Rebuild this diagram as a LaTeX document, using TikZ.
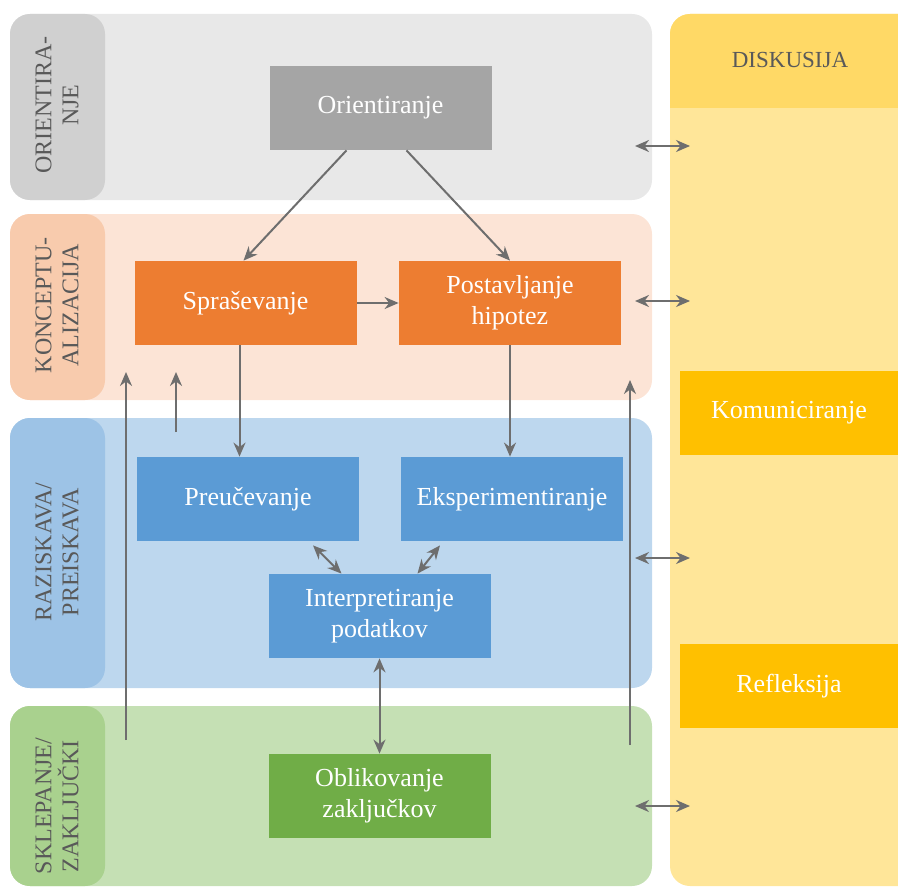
\documentclass[tikz,border=0pt]{standalone}
\usepackage{fontspec}
\setmainfont{Liberation Serif}
\usetikzlibrary{arrows.meta}

\definecolor{arr}{HTML}{6E6E6E}
\definecolor{labtxt}{HTML}{595959}
\definecolor{grayband}{HTML}{E8E8E8}
\definecolor{graylab}{HTML}{D0D0D0}
\definecolor{graybox}{HTML}{A5A5A5}
\definecolor{orband}{HTML}{FCE4D6}
\definecolor{orlab}{HTML}{F8CBAD}
\definecolor{orbox}{HTML}{ED7D31}
\definecolor{blband}{HTML}{BDD7EE}
\definecolor{bllab}{HTML}{9DC3E6}
\definecolor{blbox}{HTML}{5B9BD5}
\definecolor{grband}{HTML}{C5E0B4}
\definecolor{grlab}{HTML}{A9D18E}
\definecolor{grbox}{HTML}{70AD47}
\definecolor{ylband}{HTML}{FFE699}
\definecolor{ylhead}{HTML}{FFD966}
\definecolor{ylbox}{HTML}{FFC000}

\tikzset{
  box/.style={minimum width=111pt, minimum height=42pt, inner sep=0pt,
    text=white, align=center, font=\fontsize{13}{15.5}\selectfont},
  lane/.style={rotate=90, align=center, text=labtxt,
    font=\fontsize{12}{13.5}\selectfont},
  link/.style={draw=arr, line width=1pt, -{Stealth[length=7pt,width=6pt]}},
  both/.style={draw=arr, line width=1pt,
    {Stealth[length=7pt,width=6pt]}-{Stealth[length=7pt,width=6pt]}},
}

\begin{document}
\begin{tikzpicture}[x=0.5pt, y=-0.5pt]
      \useasboundingbox (0,0) rectangle (898,888);
      \clip (0,0) rectangle (898,888);

      % bands
      \fill[grayband, rounded corners=10pt] (10,14) rectangle (652,200);
      \fill[graylab, rounded corners=10pt] (10,14) rectangle (105,200);
      \fill[orband, rounded corners=10pt] (10,214) rectangle (652,400);
      \fill[orlab, rounded corners=10pt] (10,214) rectangle (105,400);
      \fill[blband, rounded corners=10pt] (10,418) rectangle (652,688);
      \fill[bllab, rounded corners=10pt] (10,418) rectangle (105,688);
      \fill[grband, rounded corners=10pt] (10,706) rectangle (652,886);
      \fill[grlab, rounded corners=10pt] (10,706) rectangle (105,886);

      \fill[ylband, rounded corners=10pt] (670,14) rectangle (940,886);
      \fill[ylhead, rounded corners=10pt] (670,108) -- (670,14) -- (940,14) -- (940,108);

      \node[lane] (lorient) at (57,105) {ORIENTIRA-\\NJE};
      \node[lane] (lkonc) at (57,305) {KONCEPTU-\\ALIZACIJA};
      \node[lane] (lraz) at (57,552) {RAZISKAVA/\\PREISKAVA};
      \node[lane] (lsklep) at (57,806) {SKLEPANJE/\\ZAKLJUČKI};
      \node[text=labtxt, font=\fontsize{11.5}{13}\selectfont] (disk) at (790,60) {DISKUSIJA};

      % steps
      \node[box, fill=graybox] (orient) at (380.5,108) {Orientiranje};
      \node[box, fill=orbox] (sprase) at (245.5,303) {Spraševanje};
      \node[box, fill=orbox] (postav) at (510,303) {Postavljanje\\hipotez};
      \node[box, fill=blbox] (preuc) at (248,499) {Preučevanje};
      \node[box, fill=blbox] (eksp) at (512,499) {Eksperimentiranje};
      \node[box, fill=blbox] (interp) at (379.5,616) {Interpretiranje\\podatkov};
      \node[box, fill=grbox] (oblik) at (379.5,796) {Oblikovanje\\zaključkov};
      \node[box, fill=ylbox, minimum width=109pt] (komun) at (789,412.5) {Komuniciranje};
      \node[box, fill=ylbox, minimum width=109pt] (refl) at (789,686) {Refleksija};

      \draw[link] ([xshift=-17pt]orient.south) -- ([xshift=-1pt]sprase.north);
      \draw[link] ([xshift=13pt]orient.south) -- (postav.north);
      \draw[link] (sprase.east) -- (postav.west);
      \draw[link] ([xshift=-3pt]sprase.south) -- ([xshift=-3pt]sprase.south |- preuc.north);
      \draw[link] (postav.south) -- (postav.south |- eksp.north);
      \draw[both] ([xshift=32.5pt, yshift=-2pt]preuc.south) -- ([xshift=-19pt]interp.north);
      \draw[both] ([xshift=-36pt, yshift=-2pt]eksp.south) -- ([xshift=19pt]interp.north);
      \draw[both] (interp.south) -- (oblik.north);

      % feedback lines
      \coordinate (b1) at (126,740);
      \coordinate (t1) at (126,372);
      \coordinate (b2) at (176,432);
      \coordinate (t2) at (176,372);
      \coordinate (b3) at (630,745);
      \coordinate (t3) at (630,380);
      \draw[link] (b1) -- (t1);
      \draw[link] (b2) -- (t2);
      \draw[link] (b3) -- (t3);

      % links to the discussion column
      \foreach \y [count=\i] in {146,301,558,806} {
        \coordinate (dl\i) at (635,\y);
        \coordinate (dr\i) at (690,\y);
        \draw[both] (dl\i) -- (dr\i);
      }
    \end{tikzpicture}
\end{document}
